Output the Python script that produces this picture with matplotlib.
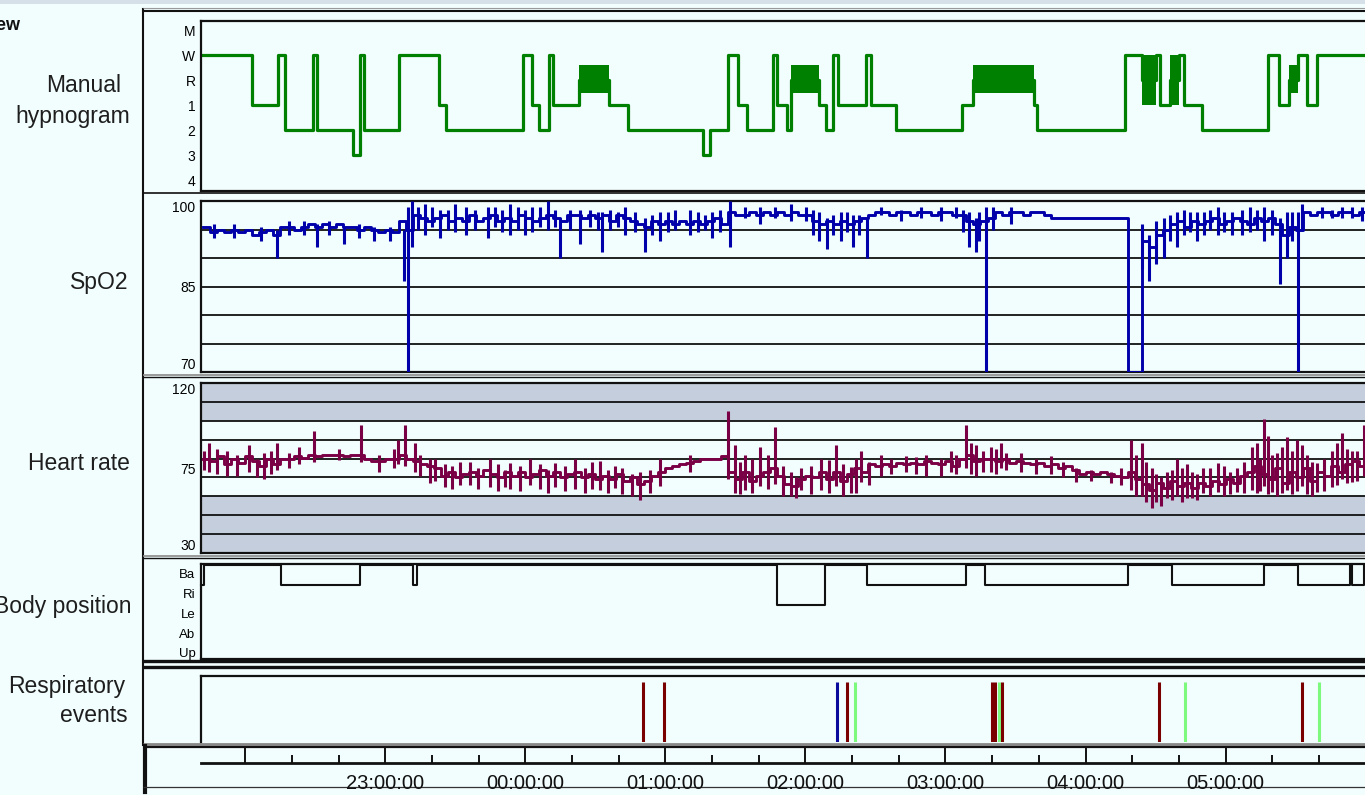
import matplotlib.pyplot as plt
import numpy as np

plt.rcParams['font.family'] = ['Liberation Sans', 'DejaVu Sans']

# ---------------- data ----------------
# manual hypnogram: stage start times (clock) and stages; X = rapid W/1 alternation
hyp_times = ['21:41', '22:03', '22:14', '22:17', '22:29', '22:31', '22:46', '22:49', '22:51',
             '23:06', '23:23', '23:26', '23:59', '00:03', '00:06', '00:10', '00:12', '00:23',
             '00:36', '00:44', '01:16', '01:19', '01:27', '01:31', '01:35', '01:46', '01:48',
             '01:52', '01:54', '02:06', '02:09', '02:12', '02:14', '02:26', '02:28', '02:39',
             '03:07', '03:12', '03:38', '03:39', '04:17', '04:24', '04:30', '04:32', '04:36',
             '04:40', '04:42', '04:50', '05:18', '05:23', '05:27', '05:31', '05:35', '05:39']
hyp_stages = ['W', '1', 'W', '2', 'W', '2', '3', 'W', '2',
              'W', '1', '2', 'W', '1', '2', 'W', '1', 'R',
              '1', '2', '3', '2', 'W', '1', '2', 'W', '1',
              '2', 'R', '1', '2', 'W', '1', 'W', '1', '2',
              '1', 'R', '1', '2', 'W', 'X', 'W', '1', 'X',
              'W', '1', '2', 'W', '1', 'R', 'W', '1', 'W']
hyp_end = '06:03'
stage_names = ['M', 'W', 'R', '1', '2', '3', '4']
stage_levels = [6, 5, 4, 3, 2, 1, 0]

# SpO2 (%), one value every 3 minutes from 21:42
spo2_start = 21.7
spo2_step = 0.05
spo2 = [95.5, 94.5, 95, 94.5, 95, 94.5, 95, 94, 94.5, 95, 94,
        95.5, 95.5, 95, 95.5, 96, 95.5, 96, 95.5, 96, 95.5, 95.5, 95, 95.5, 95, 94.5, 95, 94.5,
        96.5, 95, 97.5, 97, 96.5, 97, 97.5, 96.5, 97, 96.5, 97.5, 96.5, 97, 97.5, 96.5, 97,
        96.5, 97.5, 97, 96.5, 97, 97.5, 97, 96.5, 97.5, 97.5, 97, 97.5, 97, 97.5, 96.5, 97.5,
        97, 96.5, 96, 95.5, 96.5, 96, 96.5, 96, 96.5, 96, 96.5, 96, 96.5, 97, 96,
        98, 97.5, 97.5, 98, 97.5, 98, 97.5, 98, 97.5, 98, 97.5, 97.5, 96.5, 96, 96.5, 96,
        96.5, 96, 96.5, 97, 97.5, 98, 98, 97.5, 98, 98, 97.5, 98, 98, 97.5, 98, 98, 97.5,
        97.5, 96.5, 96, 96.5, 97, 98, 97.5, 98, 98, 97.5, 98, 98, 97.5, 97,
        97, 97, 97, 97, 97, 97, 97, 97, 97, 97,
        70, 70, 93, 92, 94, 95, 96, 96.5, 95.5, 96.5, 96, 96.5, 97, 96, 96.5, 97, 96.5, 96,
        97, 96.5, 97, 96, 94, 95.5, 95, 98, 97.5, 98, 98, 97.5, 98, 98, 97.5, 98]
# short excursions between samples: time (h), low and high value
spo2_spike_t = [22.229, 22.515, 22.709, 23.131, 23.160, 23.188, 23.281, 23.389, 23.575, 23.732,
                23.890, 24.047, 24.162, 24.248, 24.391, 24.548, 24.713, 24.856, 24.963, 25.178,
                25.335, 25.464, 25.679, 25.894, 26.094, 26.152, 26.252, 26.338, 26.438, 26.681,
                26.968, 27.168, 27.218, 27.290, 27.469, 28.400, 28.450, 28.506, 28.557, 28.650,
                28.793, 28.943, 29.115, 29.273, 29.387, 29.437, 29.516, 29.545, 29.831, 29.974,
                21.778, 21.921, 22.114, 22.315, 22.422, 22.601, 22.816, 22.923, 23.031,
                23.231, 23.331, 23.446, 23.496, 23.639, 23.782, 23.832, 23.947, 23.997, 24.104,
                24.212, 24.319, 24.462, 24.520, 24.605, 24.663, 24.784, 24.906, 25.021, 25.071,
                25.235, 25.285, 25.393, 25.572, 25.786, 26.001, 26.051, 26.195, 26.295, 26.381,
                26.538, 26.824, 27.075, 27.125, 27.240, 27.340, 28.600, 28.700, 28.743, 28.843,
                28.886, 28.986, 29.043, 29.172, 29.222, 29.330, 29.473, 29.688, 29.759, 29.902]
spo2_spike_lo = [90, 92, 92.5, 86, 70, 92, 94, 93.5, 94, 93.5,
                 94, 94.5, 95, 90, 92.5, 91, 94, 91, 93, 94,
                 93.5, 92, 96, 96.5, 93, 91.5, 93, 92, 90, 96.5,
                 96.5, 92, 91, 70, 96, 88, 86, 89, 90, 92,
                 93, 94, 94, 93, 85.5, 90, 70, 95, 97, 96.5,
                 93.5, 93.5, 93, 94, 94, 94, 93.5, 93, 93,
                 95, 95.5, 95, 94.5, 95, 95.5, 94.5, 95, 94, 95.5,
                 95.5, 95, 95.5, 95, 95, 95.5, 94.5, 94, 94.5, 95,
                 94.5, 95, 94.5, 97, 97, 96.5, 94, 94, 94.5, 94,
                 97.5, 97, 97, 94.5, 93, 95, 93, 94, 94.5, 94,
                 95, 94.5, 94, 94.5, 95, 94, 93, 97, 97, 97]
spo2_spike_hi = [95, 96, 95.5, 95, 99, 100, 99.5, 98.5, 99, 99,
                 99.5, 99, 100, 97, 98.5, 98, 99, 97, 98, 98.5,
                 98, 100, 99, 99.5, 98, 97, 98, 97.5, 97, 98.5,
                 99, 98, 97, 99, 99, 96, 94, 96.5, 97, 98,
                 98, 99, 98.5, 99, 97, 98, 98, 99.5, 99, 99,
                 96, 96, 95.5, 96.5, 96.5, 96.5, 96, 95.5, 95.5,
                 99, 99, 98.5, 99.5, 98.5, 99, 98.5, 99, 98.5, 99,
                 98.5, 98.5, 98.5, 98, 98.5, 98, 98, 97.5, 98, 98.5,
                 98, 97.5, 98.5, 99, 99, 99, 98.5, 97.5, 98, 97.5,
                 99, 99, 99, 98.5, 98, 99, 97.5, 98.5, 98, 98,
                 98.5, 98, 98, 99, 98.5, 98.5, 98, 99, 98.5, 99]
spo2_grid = [75, 80, 85, 90, 95]
spo2_ticks = [100, 85, 70]

# heart rate (bpm), one value every 3 minutes from 21:42
hr_start = 21.7
hr_step = 0.05
hr = [80, 78.5, 81.5, 77, 80, 77.5, 81.5, 78.5, 76, 79.5, 77,
      80, 79.5, 81.5, 80.5, 82, 81.5, 82, 82, 82, 81.5, 82, 82, 79.5, 78.5, 78.5, 79.5, 80,
      82, 79.5, 78.5, 77, 76, 75, 71, 73, 70, 72, 73, 71, 74, 72, 70, 73, 71, 73, 70, 72,
      74, 71, 73, 70, 72, 73, 70, 72, 69, 71, 69, 72, 68, 70, 66.5, 68, 71, 73, 75, 76,
      77, 77.5, 78.5, 79.5, 79.5, 80, 81.5, 73, 69, 73, 68, 71, 73, 75, 71, 66.5, 65.5,
      69, 71, 70, 73, 69, 73, 68, 72, 75, 73, 77, 76, 77, 76, 77.5, 77, 77.5, 77, 78.5,
      77.5, 77, 78.5, 76, 79.5, 82, 78.5, 80, 79.5, 78.5, 79.5, 77.5, 78.5, 77.5, 77,
      77.5, 76, 77, 75, 76, 74, 72, 73, 72, 73, 72, 71, 70, 73, 69, 66.5, 63.5, 67, 64.5,
      68, 65.5, 67, 64.5, 67, 65.5, 68, 66.5, 69, 67, 71, 73, 76, 72, 69, 75, 67, 73, 70,
      75, 68, 73, 71, 76, 73, 77, 78.5, 76]
hr_spike_t = [21.742, 21.871, 22.029, 22.136, 22.229, 22.386, 22.494, 22.673, 22.830, 22.959,
              23.088, 23.138, 23.210, 23.317, 23.424, 23.603, 23.746, 23.890, 24.033, 24.212,
              24.355, 24.534, 24.641, 24.820, 24.963, 25.178, 25.450, 25.500, 25.572, 25.679,
              25.786, 25.894, 25.965, 26.109, 26.216, 26.323, 26.395, 26.538, 26.717, 26.860,
              27.039, 27.146, 27.218, 27.325, 27.397, 27.540, 27.755, 27.934, 28.328, 28.400,
              28.471, 28.578, 28.650, 28.757, 28.835, 28.943, 29.079, 29.187, 29.273, 29.330,
              29.437, 29.545, 29.652, 29.831, 29.903, 29.988,
              21.706, 21.799, 21.943, 22.086, 22.186, 22.315, 23.066, 23.245, 23.353,
              23.474, 23.532, 23.661, 23.804, 23.854, 23.961, 24.104, 24.162, 24.283, 24.426,
              24.477, 24.591, 24.691, 24.763, 24.892, 25.536, 25.622, 25.736, 25.837, 25.930,
              26.037, 26.166, 26.266, 26.359, 26.452, 26.610, 26.789, 26.968, 27.075, 27.182,
              27.268, 27.361, 27.433, 27.648, 27.841, 28.041, 28.184, 28.256, 28.363, 28.435,
              28.506, 28.542, 28.614, 28.685, 28.721, 28.793, 28.886, 28.986, 29.029, 29.129,
              29.222, 29.244, 29.301, 29.366, 29.401, 29.473, 29.509, 29.580, 29.616, 29.702,
              29.759, 29.795, 29.867, 29.938]
hr_spike_lo = [73, 71, 73, 69, 74, 77, 78, 79, 78, 73,
               77, 76, 73, 67, 65, 66, 65, 64, 66, 65,
               64, 63.5, 64.5, 58, 65.5, 73, 69, 62, 63.5, 65.5,
               66.5, 60, 63.5, 63.5, 65.5, 61.5, 67.5, 71, 73, 71,
               73, 75, 71, 73, 75, 73, 72, 67.5, 63.5, 60,
               54, 59, 60, 59, 61.5, 62.5, 62.5, 63.5, 65.5, 62.5,
               63.5, 65.5, 62.5, 69, 67.5, 71,
               74, 72, 71, 70, 72, 75, 75, 71, 68,
               64, 66, 64, 63, 65, 63, 64, 62, 63, 62,
               64, 62, 61, 60, 62, 61, 62, 64, 60, 59,
               61, 62, 60, 62, 66, 72, 72, 71, 72, 72,
               73, 72, 74, 72, 70, 68, 67, 66, 60, 57,
               57, 55, 58, 57, 59, 58, 60, 60, 61, 62,
               62, 63, 61, 60, 62, 61, 63, 61, 60, 63,
               65, 66, 67, 68]
hr_spike_hi = [88, 84, 87, 83, 88, 86, 94.5, 85, 97.5, 82,
               90, 97.5, 88, 80, 77, 78, 79.5, 77.5, 80, 77.5,
               79.5, 78.5, 76, 73, 80, 82, 105, 87, 82, 86,
               96.5, 73, 75, 80, 87, 75.5, 84, 82, 81.5, 82,
               84, 97.5, 87, 86, 88, 83, 81.5, 75, 90, 88,
               75, 73, 80, 73, 75, 77.5, 75, 86, 101, 82,
               91.5, 87, 77.5, 93.5, 84, 97.5,
               84, 85, 82, 80, 84, 83, 85, 82, 80,
               76, 78, 75, 77, 74, 76, 77, 74, 76, 75,
               78, 74, 75, 72, 74, 78, 80, 82, 76, 70,
               76, 79, 77, 80, 78, 80, 81, 80, 82, 88,
               84, 85, 83, 80, 78, 74, 73, 75, 82, 78,
               72, 70, 74, 75, 77, 72, 75, 76, 73, 78,
               88, 80, 92, 83, 86, 84, 90, 82, 78, 80,
               84, 88, 85, 84]
hr_normal = (60, 100)
hr_grid = [40, 50, 60, 70, 80, 90, 100, 110]
hr_ticks = [120, 75, 30]

# body position: change times (hours, >24 = after midnight) and positions
pos_times = [21.685, 21.706, 22.257, 22.823, 23.195, 23.224, 25.794, 26.137, 26.438,
             27.146, 27.282, 28.306, 28.614, 29.273, 29.516, 29.888, 29.903, 29.988]
pos_values = ['Ri', 'Ba', 'Ri', 'Ba', 'Ri', 'Ba', 'Le', 'Ba', 'Ri',
              'Ba', 'Ri', 'Ba', 'Ri', 'Ba', 'Ri', 'Ba', 'Ri', 'Ba']
pos_end = 30.045
pos_names = ['Ba', 'Ri', 'Le', 'Ab', 'Up']
pos_levels = [4, 3, 2, 1, 0]

# respiratory events
resp_times = [24.841, 24.991, 26.223, 26.295, 26.352, 27.333, 27.354, 27.379, 27.404,
              28.521, 28.707, 29.545, 29.666]
resp_types = ['OA', 'OA', 'CA', 'OA', 'H', 'OA', 'OA', 'H', 'OA', 'OA', 'H', 'OA', 'H']
resp_colors = {'OA': '#7a0000', 'CA': '#0a0a9c', 'H': '#7dfa7d'}

# time axis
hour_ticks = [22, 23, 24, 25, 26, 27, 28, 29]
hour_labels = ['', '23:00:00', '00:00:00', '01:00:00', '02:00:00', '03:00:00', '04:00:00', '05:00:00']
t_min, t_max = 21.685, 30.045


def clock(s):
    h, m = s.split(':')
    v = int(h) + int(m) / 60
    return v + 24 if int(h) < 12 else v


# ---------------- layout ----------------
W, H = 1365, 795
BG = '#f2fdfd'
INK = '#111111'
LABEL = '#1e1e1e'

fig = plt.figure(figsize=(W / 100, H / 100), dpi=100, facecolor=BG)


def box(l, t, r, b):
    return fig.add_axes([l / W, 1 - b / H, (r - l) / W, (b - t) / H])


bg = fig.add_axes([0, 0, 1, 1])
bg.set_xlim(0, W)
bg.set_ylim(H, 0)
bg.axis('off')
bg.fill_between([0, W], 0, 4, color='#d5e0e8', lw=0)


def hline(y, x0=143, color=INK, lw=1.2):
    bg.plot([x0, W], [y, y], color=color, lw=lw, solid_capstyle='butt')


bg.plot([143, 143], [9, 745], color=INK, lw=1.5)
hline(8, color='#9a9a9a', lw=0.8)
hline(10.5, lw=1.5)
hline(193, lw=1.2)
hline(374.5, color='#8a8a8a', lw=1.2)
hline(377, lw=1.0)
hline(555.5, color='#8a8a8a', lw=1.2)
hline(558, lw=1.0)
hline(661, lw=2.4)
hline(667, lw=2.4)
hline(743.5, color='#888888', lw=2)
hline(746.5, lw=1.6)
bg.plot([145, 145], [746, 792], color=INK, lw=3)
hline(787, color='#333333', lw=0.9)

bg.text(20, 26, 'Overview', ha='right', va='center', fontsize=13, fontweight='bold', color=INK)
lab = dict(ha='right', va='center', fontsize=16.5, color=LABEL)
bg.text(121, 86, 'Manual', **lab)
bg.text(130, 116, 'hypnogram', **lab)
bg.text(128, 282, 'SpO2', **lab)
bg.text(130, 463, 'Heart rate', **lab)
bg.text(131, 606, 'Body position', **lab)
bg.text(125, 686, 'Respiratory', **lab)
bg.text(128, 716, 'events', **lab)


def panel(l, t, r, b):
    ax = box(l, t, r, b)
    ax.set_facecolor(BG)
    ax.set_xlim(t_min, t_max)
    ax.set_xticks([])
    for side in ['left', 'top', 'bottom']:
        ax.spines[side].set_linewidth(1.6)
        ax.spines[side].set_color(INK)
    ax.spines['right'].set_visible(False)
    ax.tick_params(axis='y', length=0, pad=4, labelsize=10, labelcolor='black')
    return ax


# hypnogram
ax = panel(201, 21, 1372, 191)
ax.set_ylim(-0.44, 6.37)
ax.set_yticks(stage_levels, stage_names)
lvl = dict(zip(stage_names + ['X'], stage_levels + [4]))
hx = [clock(s) for s in hyp_times] + [clock(hyp_end)]
hy = [lvl[s] for s in hyp_stages]
ax.step(hx, hy + [hy[-1]], where='post', color='#008000', lw=2.3)
for i, s in enumerate(hyp_stages):
    if s == 'R':
        ax.fill_between([hx[i], hx[i + 1]], 3.47, 4.6, color='#008000', lw=0)
    elif s == 'X':
        ax.fill_between([hx[i], hx[i + 1]], lvl['1'], lvl['W'], color='#008000', lw=0)

# SpO2
ax = panel(201, 201, 1372, 372)
ax.set_ylim(70, 100)
ax.set_yticks(spo2_ticks, [str(v) for v in spo2_ticks])
for g in spo2_grid:
    ax.axhline(g, color=INK, lw=1.3, zorder=1)
st = spo2_start + np.arange(len(spo2)) * spo2_step
ax.step(np.append(st, st[-1] + spo2_step), spo2 + [spo2[-1]], where='post', color='#0000aa', lw=2.1, zorder=3)
ax.vlines(spo2_spike_t, spo2_spike_lo, spo2_spike_hi, color='#0000aa', lw=2.2, zorder=3)
tl = ax.get_yticklabels()
tl[0].set_va('top')
tl[2].set_va('bottom')

# heart rate
ax = panel(201, 383, 1372, 553)
ax.set_ylim(30, 120)
ax.set_yticks(hr_ticks, [str(v) for v in hr_ticks])
ax.axhspan(hr_normal[1], 120, color='#c5cedc', lw=0, zorder=0)
ax.axhspan(30, hr_normal[0], color='#c5cedc', lw=0, zorder=0)
for g in hr_grid:
    ax.axhline(g, color=INK, lw=1.3, zorder=1)
ht = hr_start + np.arange(len(hr)) * hr_step
ax.step(np.append(ht, ht[-1] + hr_step), hr + [hr[-1]], where='post', color='#7a0046', lw=2.1, zorder=3)
ax.vlines(hr_spike_t, hr_spike_lo, hr_spike_hi, color='#7a0046', lw=2.2, zorder=3)
tl = ax.get_yticklabels()
tl[0].set_va('top')
tl[2].set_va('bottom')

# body position
ax = panel(201, 564, 1372, 659)
ax.set_ylim(-0.7, 4.05)
ax.set_yticks([v - 0.4 for v in pos_levels], pos_names)
ax.tick_params(axis='y', labelsize=9.5)
plv = dict(zip(pos_names, pos_levels))
py = [plv[p] for p in pos_values]
ax.step(pos_times + [pos_end], py + [py[-1]], where='post', color=INK, lw=1.5, clip_on=False)

# respiratory events
ax = panel(201, 676, 1372, 742)
ax.set_ylim(0, 1)
ax.set_yticks([])
ax.spines['bottom'].set_visible(False)
ax.vlines(resp_times, 0, 0.91, colors=[resp_colors[k] for k in resp_types], lw=2.2)

# time axis
axt = box(201, 747, 1372, 763)
axt.set_facecolor('none')
axt.set_xlim(t_min, t_max)
axt.set_yticks([])
for side in ['left', 'top', 'right']:
    axt.spines[side].set_visible(False)
axt.spines['bottom'].set_linewidth(2)
axt.spines['bottom'].set_color(INK)
axt.set_xticks(hour_ticks, hour_labels)
axt.set_xticks([h + k / 3 for h in hour_ticks for k in (1, 2)], minor=True)
axt.tick_params(axis='x', which='major', direction='in', length=12, width=1.4, color=INK,
                pad=8, labelsize=14.5, labelcolor=INK)
axt.tick_params(axis='x', which='minor', direction='in', length=6, width=1.4, color=INK)

fig.savefig('out.png', dpi=100, facecolor=BG)
